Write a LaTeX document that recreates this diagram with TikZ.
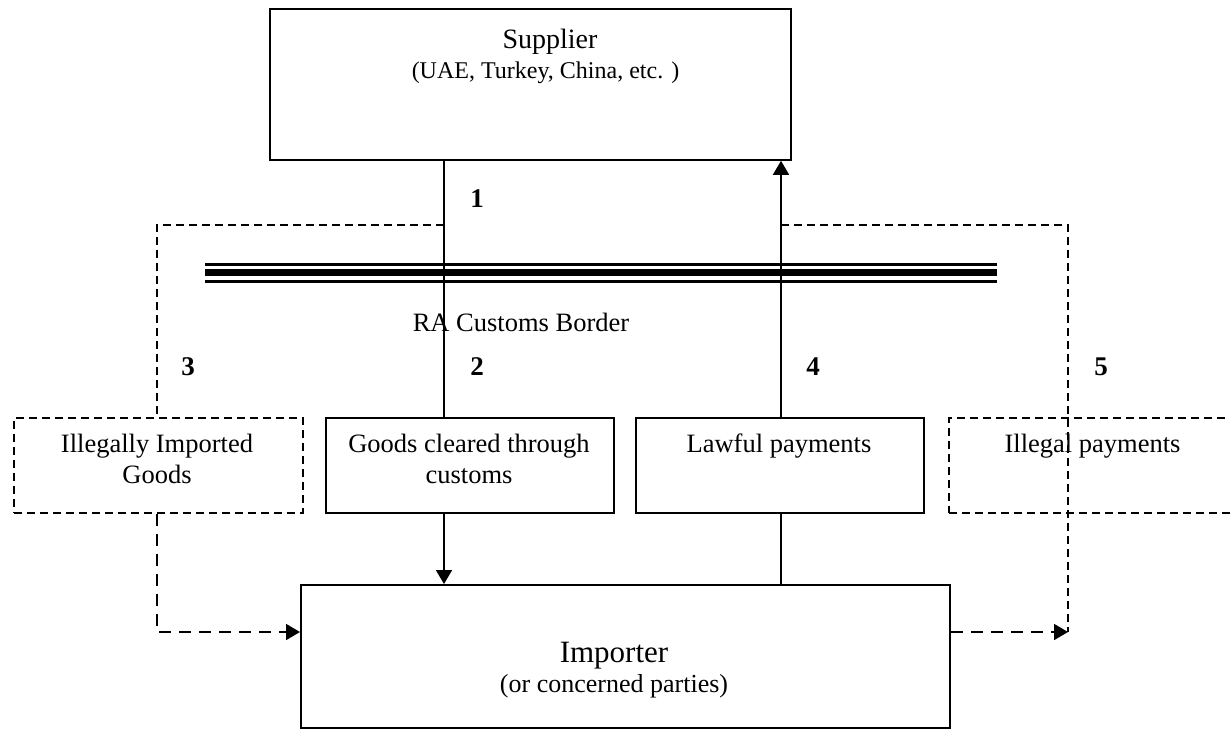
\documentclass[tikz,border=0pt]{standalone}
\usepackage{fontspec}
\setmainfont{Liberation Serif}
\usetikzlibrary{arrows.meta}
\begin{document}
\begin{tikzpicture}[x=1pt,y=-1pt,
  box/.style={draw, line width=1.8pt, rectangle, inner sep=0pt, anchor=north west},
  dbox/.style={box, dash pattern=on 8pt off 5pt},
  conn/.style={line width=1.8pt},
  dconn/.style={line width=1.8pt, dash pattern=on 8pt off 5pt},
  ldconn/.style={line width=1.8pt, dash pattern=on 12pt off 8pt},
  tip/.style={-{Triangle[length=14pt,width=16pt]}},
  num/.style={font=\fontsize{27}{27}\selectfont\bfseries, anchor=base, inner sep=0pt},
  lbl/.style={anchor=base, inner sep=0pt},
]
\useasboundingbox (0,0) rectangle (1230,728);
\clip (0,0) rectangle (1230,728);
% boxes
\node[box, minimum width=521pt, minimum height=151pt] (sup) at (269,8) {};
\node[box, minimum width=649pt, minimum height=143pt] (imp) at (300,584) {};
\node[dbox, minimum width=289pt, minimum height=95pt] (ill) at (13,417) {};
\node[box, minimum width=288pt, minimum height=95pt] (goods) at (325,417) {};
\node[box, minimum width=288pt, minimum height=95pt] (lawful) at (635,417) {};
\node[dbox, minimum width=292pt, minimum height=95pt] (illpay) at (948,417) {};
% texts
\node[lbl, font=\fontsize{28}{28}\selectfont] (supt) at (550,48) {Supplier};
\node[lbl, font=\fontsize{24}{24}\selectfont] (sups) at (545.5,78) {(UAE, Turkey, China, etc. )};
\node[lbl, font=\fontsize{31}{31}\selectfont] (impt) at (614,662) {Importer};
\node[lbl, font=\fontsize{26}{26}\selectfont] (imps) at (614,692) {(or concerned parties)};
\node[lbl] (illt) at (157,452) {\fontsize{26.5}{31}\selectfont\tabcolsep=0pt\begin{tabular}[t]{c}Illegally Imported\\Goods\end{tabular}};
\node[lbl] (goodst) at (469,452) {\fontsize{26.5}{31}\selectfont\tabcolsep=0pt\begin{tabular}[t]{c}Goods cleared through\\customs\end{tabular}};
\node[lbl, font=\fontsize{26.5}{31}\selectfont] (lawt) at (779,452) {Lawful payments};
\node[lbl, font=\fontsize{26.5}{31}\selectfont] (illpt) at (1092.5,452) {Illegal payments};
\node[lbl, font=\fontsize{26.5}{31}\selectfont] (border) at (521,331) {RA Customs Border};
\node[num] (n1) at (477,207) {1};
\node[num] (n2) at (477,375) {2};
\node[num] (n3) at (188,375) {3};
\node[num] (n4) at (813,375) {4};
\node[num] (n5) at (1101,375) {5};
% border triple line
\coordinate (bL) at (205,0);
\coordinate (bR) at (997,0);
\draw[line width=2.7pt] (bL |- 0,264.7) -- (bR |- 0,264.7);
\draw[line width=7pt] (bL |- 0,272.7) -- (bR |- 0,272.7);
\draw[line width=3pt] (bL |- 0,281) -- (bR |- 0,281);
% connectors
\coordinate (x1) at (444,0);
\coordinate (x4) at (781,0);
\coordinate (x3) at (157,0);
\coordinate (x5) at (1068,0);
\coordinate (yd) at (0,225);
\coordinate (yb) at (0,632);
\draw[conn] (sup.south -| x1) -- (goods.north -| x1);
\draw[conn,tip] (goods.south -| x1) -- (imp.north -| x1);
\draw[conn] (imp.north -| x4) -- (lawful.south -| x4);
\draw[conn,tip] (lawful.north -| x4) -- (sup.south -| x4);
\draw[dconn] (yd -| x1) -- (yd -| x3) -- (ill.north -| x3);
\draw[ldconn,tip] (ill.south -| x3) -- (yb -| x3) -- (imp.west |- yb);
\draw[dconn] (yd -| x4) -- (yd -| x5) -- (yb -| x5);
\draw[ldconn,tip] (imp.east |- yb) -- (yb -| x5);
\end{tikzpicture}
\end{document}
